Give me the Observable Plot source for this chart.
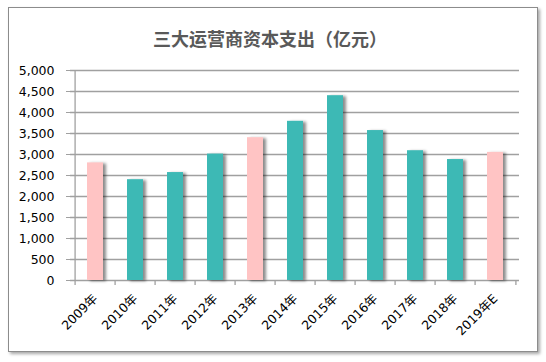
<!DOCTYPE html>
<html>
<head>
<meta charset="utf-8">
<script src="https://cdn.jsdelivr.net/npm/d3@7"></script>
<script src="https://cdn.jsdelivr.net/npm/@observablehq/plot@0.6"></script>
<style>
  html, body { margin: 0; padding: 0; background: #fff; }
  #wrap { position: relative; width: 546px; height: 362px; overflow: hidden; }
  #frame { position: absolute; left: 8px; top: 7px; width: 528px; height: 343px;
           border: 1px solid #8c8c8c; background: #fff; box-shadow: 2px 2px 3px rgba(0,0,0,0.35); }
  #title { position: absolute; left: 0; width: 540px; top: 25px; text-align: center;
           font-family: "Noto Sans CJK SC", sans-serif; font-weight: bold; font-size: 18px; color: #595959; line-height: 26px; }
  #chart { position: absolute; left: 0; top: 0; }
</style>
</head>
<body>
<div id="wrap">
  <div id="frame"></div>
  <div id="title">三大运营商资本支出（亿元）</div>
  <div id="chart"></div>
</div>
<script>
const years = ["2009年", "2010年", "2011年", "2012年", "2013年", "2014年", "2015年", "2016年", "2017年", "2018年", "2019年E"];
const capex = [2800, 2400, 2570, 3010, 3400, 3790, 4400, 3570, 3090, 2880, 3050];
const highlighted = [true, false, false, false, true, false, false, false, false, false, true];
const yTicks = [0, 500, 1000, 1500, 2000, 2500, 3000, 3500, 4000, 4500, 5000];

const data = years.map((y, i) => ({year: y, value: capex[i], kind: highlighted[i] ? "highlight" : "normal"}));

const W = 546, H = 362, mL = 70, mR = 27, mT = 70, mB = 82;
const step = (W - mL - mR) / years.length;
const axisColor = "#a0a0a0";

const chart = Plot.plot({
  width: W, height: H,
  marginLeft: mL, marginRight: mR, marginTop: mT, marginBottom: mB,
  style: {background: "transparent", overflow: "visible", fontFamily: "'DejaVu Sans', 'Noto Sans CJK SC', sans-serif", fontSize: "12px", color: "#000"},
  x: {domain: years, paddingInner: 0.6, paddingOuter: 0.3, axis: null, label: null},
  y: {domain: [0, 5000], axis: null, label: null},
  color: {domain: ["normal", "highlight"], range: ["#3cb9b5", "#ffc4c4"]},
  marks: [
    Plot.gridY(yTicks, {stroke: axisColor, strokeOpacity: 1, strokeWidth: 1.3}),
    Plot.axisY({ticks: yTicks, tickFormat: d3.format(","), tickSize: 4, tickPadding: 12, stroke: axisColor, strokeOpacity: 1, fill: "#000", fontSize: 12.5, label: null}),
    Plot.ruleX([years[0]], {x: d => d, y1: 0, y2: 5000, dx: -step / 2, stroke: axisColor, strokeWidth: 1.3}),
    Plot.ruleX(years, {x: d => d, y1: 0, y2: 0, dx: -step / 2, insetBottom: -5, stroke: axisColor, strokeWidth: 1.3}),
    Plot.ruleX([years[years.length - 1]], {x: d => d, y1: 0, y2: 0, dx: step / 2, insetBottom: -5, stroke: axisColor, strokeWidth: 1.3}),
    Plot.barY(data, {x: "year", y: "value", fill: "kind"}),
    Plot.axisX({tickSize: 0, tickPadding: 16, tickRotate: -45, fill: "#000", fontSize: 12.5, label: null})
  ]
});

// drop shadow on bars (Excel-style)
const svg = d3.select(chart);
const defs = svg.insert("defs", ":first-child");
const f = defs.append("filter").attr("id", "barShadow").attr("x", "-50%").attr("y", "-20%").attr("width", "200%").attr("height", "140%");
f.append("feDropShadow").attr("dx", 3).attr("dy", 1).attr("stdDeviation", 1.8).attr("flood-color", "#000").attr("flood-opacity", 0.45);
svg.selectAll('g[aria-label="bar"] rect').attr("filter", "url(#barShadow)");

document.getElementById("chart").appendChild(chart);
</script>
</body>
</html>
